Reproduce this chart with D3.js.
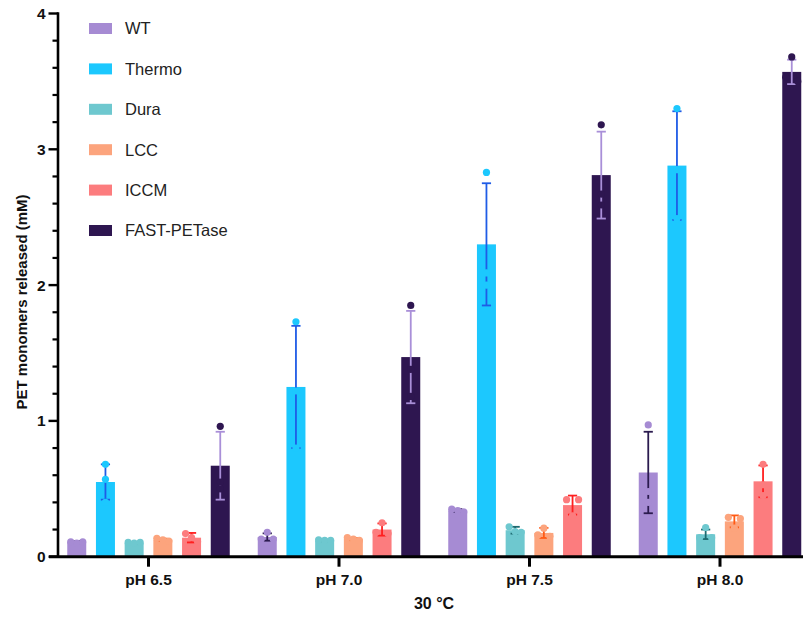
<!DOCTYPE html>
<html>
<head>
<meta charset="utf-8">
<script src="https://cdn.jsdelivr.net/npm/d3@7"></script>
<style>
  html, body { margin: 0; padding: 0; background: #fff; }
  svg { display: block; }
  text { font-family: "Liberation Sans", Arial, sans-serif; }
</style>
</head>
<body>
<svg id="chart" width="803" height="617"></svg>
<script>
// ---- data ----
const groups = ["pH 6.5", "pH 7.0", "pH 7.5", "pH 8.0"];
const series = ["WT", "Thermo", "Dura", "LCC", "ICCM", "FAST-PETase"];
const barColors = ["#a68bd3", "#1cc8fe", "#6ec8cf", "#fca47d", "#fc7c7e", "#2e1650"];
const errColors = ["#2b1b4f", "#1f5ce6", "#1d6a70", "#ff5a14", "#ff1f1f", "#a98fd8"];
const yTicks = [0, 1, 2, 3, 4];
const xTitle = "30 °C";
const yTitle = "PET monomers released (mM)";

const wtMean = [0.11, 0.145, 0.34, 0.62];
const wtSD = [0.005, 0.027, 0.01, 0.30];
const wtPoints = [[0.11, 0.10, 0.11], [0.18, 0.13, 0.13], [0.35, 0.34, 0.33], [0.97, 0.48, 0.40]];

const thermoMean = [0.55, 1.25, 2.30, 2.88];
const thermoSD = [0.13, 0.45, 0.45, 0.40];
const thermoPoints = [[0.68, 0.57, 0.40], [1.73, 1.22, 0.80], [2.83, 2.09, 2.00], [3.30, 2.85, 2.49]];

const duraMean = [0.10, 0.12, 0.195, 0.165];
const duraSD = [0.004, 0.006, 0.025, 0.035];
const duraPoints = [[0.105, 0.10, 0.105], [0.125, 0.12, 0.12], [0.22, 0.185, 0.18], [0.215, 0.14, 0.14]];

const lccMean = [0.125, 0.13, 0.175, 0.26];
const lccSD = [0.008, 0.008, 0.037, 0.044];
const lccPoints = [[0.135, 0.125, 0.115], [0.14, 0.13, 0.12], [0.21, 0.16, 0.15], [0.29, 0.28, 0.21]];

const iccmMean = [0.14, 0.20, 0.38, 0.555];
const iccmSD = [0.035, 0.045, 0.07, 0.117];
const iccmPoints = [[0.17, 0.14, 0.11], [0.25, 0.18, 0.17], [0.42, 0.42, 0.30], [0.68, 0.53, 0.45]];

const fastMean = [0.67, 1.47, 2.81, 3.57];
const fastSD = [0.25, 0.34, 0.32, 0.09];
const fastPoints = [[0.96, 0.55, 0.50], [1.85, 1.38, 1.18], [3.18, 2.67, 2.59], [3.68, 3.53, 3.50]];

const means = [wtMean, thermoMean, duraMean, lccMean, iccmMean, fastMean];
const sds = [wtSD, thermoSD, duraSD, lccSD, iccmSD, fastSD];
const points = [wtPoints, thermoPoints, duraPoints, lccPoints, iccmPoints, fastPoints];

// ---- layout ----
const svg = d3.select("#chart");
const yAxisX = 58;
const x0 = d3.scaleBand().domain(groups).range([53.25, 815.25]).paddingInner(0).paddingOuter(0);
const x1 = d3.scaleBand().domain(series).range([9.15, x0.bandwidth() - 9.15]).paddingInner(0.338).paddingOuter(0.169);
const y = d3.scaleLinear().domain([0, 4]).range([556.7, 13.5]);

const rows = [];
groups.forEach((g, gi) => {
  series.forEach((s, si) => {
    rows.push({ g, s, si, mean: means[si][gi], sd: sds[si][gi], pts: points[si][gi] });
  });
});

const plot = svg.append("g");
const barG = plot.selectAll("g.bar").data(rows).join("g")
  .attr("transform", d => `translate(${x0(d.g) + x1(d.s)},0)`);

barG.append("rect")
  .attr("x", 0)
  .attr("width", x1.bandwidth())
  .attr("y", d => y(d.mean))
  .attr("height", d => y(0) - y(d.mean))
  .attr("fill", d => barColors[d.si]);

const bw = x1.bandwidth();
const capW = 4.6;
// error bars
barG.append("line")
  .attr("x1", bw / 2).attr("x2", bw / 2)
  .attr("y1", d => y(d.mean + d.sd)).attr("y2", d => y(d.mean - d.sd))
  .attr("stroke", d => errColors[d.si]).attr("stroke-width", 1.8);
barG.append("line")
  .attr("x1", bw / 2 - capW).attr("x2", bw / 2 + capW)
  .attr("y1", d => y(d.mean + d.sd)).attr("y2", d => y(d.mean + d.sd))
  .attr("stroke", d => errColors[d.si]).attr("stroke-width", 1.8);
barG.append("line")
  .attr("x1", bw / 2 - capW).attr("x2", bw / 2 + capW)
  .attr("y1", d => y(d.mean - d.sd)).attr("y2", d => y(d.mean - d.sd))
  .attr("stroke", d => errColors[d.si]).attr("stroke-width", 1.8);

// replicate points (spread horizontally only when they overlap)
barG.each(function (d) {
  const g = d3.select(this);
  const pts = d.pts.map((v, i) => ({ v, i }));
  pts.forEach(p => {
    const near = pts.filter(q => Math.abs(y(q.v) - y(p.v)) < 6);
    const k = near.indexOf(p);
    const n = near.length;
    p.dx = n === 1 ? 0 : (k - (n - 1) / 2) * (n === 2 ? 12 : 6);
  });
  g.selectAll("circle").data(pts).join("circle")
    .attr("cx", p => bw / 2 + p.dx)
    .attr("cy", p => y(p.v))
    .attr("r", 3.6)
    .attr("fill", barColors[d.si]);
});

// ---- axes ----
const yAxisG = svg.append("g");
const minor = d3.range(0, 4.0001, 0.2).filter(v => Math.abs(v - Math.round(v)) > 1e-6);
yAxisG.selectAll("line.minor").data(minor).join("line")
  .attr("x1", yAxisX - 5.5).attr("x2", yAxisX)
  .attr("y1", d => y(d)).attr("y2", d => y(d))
  .attr("stroke", "#000").attr("stroke-width", 2.2);
yAxisG.selectAll("line.major").data(yTicks).join("line")
  .attr("x1", yAxisX - 9.5).attr("x2", yAxisX)
  .attr("y1", d => y(d)).attr("y2", d => y(d))
  .attr("stroke", "#000").attr("stroke-width", 2.4);
yAxisG.selectAll("text").data(yTicks).join("text")
  .attr("x", yAxisX - 12.5).attr("y", d => y(d))
  .attr("dy", "0.36em")
  .attr("text-anchor", "end")
  .attr("font-size", 15.5).attr("font-weight", "bold")
  .attr("fill", "#111")
  .text(d => d);
yAxisG.append("line")
  .attr("x1", yAxisX).attr("x2", yAxisX)
  .attr("y1", y(4) - 1.2).attr("y2", y(0))
  .attr("stroke", "#000").attr("stroke-width", 2.6);

const xAxisG = svg.append("g");
xAxisG.append("line")
  .attr("x1", 49).attr("x2", 803)
  .attr("y1", y(0)).attr("y2", y(0))
  .attr("stroke", "#000").attr("stroke-width", 3);
xAxisG.selectAll("line.tick").data(groups).join("line")
  .attr("x1", d => x0(d) + x0.bandwidth() / 2).attr("x2", d => x0(d) + x0.bandwidth() / 2)
  .attr("y1", y(0)).attr("y2", y(0) + 10)
  .attr("stroke", "#000").attr("stroke-width", 3);
xAxisG.selectAll("text").data(groups).join("text")
  .attr("x", d => x0(d) + x0.bandwidth() / 2)
  .attr("y", 585)
  .attr("text-anchor", "middle")
  .attr("font-size", 15.5).attr("font-weight", "bold")
  .attr("fill", "#111")
  .text(d => d);

svg.append("text")
  .attr("x", 434).attr("y", 609)
  .attr("text-anchor", "middle")
  .attr("font-size", 16).attr("font-weight", "bold")
  .attr("fill", "#111")
  .text(xTitle);

svg.append("text")
  .attr("transform", "translate(27,302) rotate(-90)")
  .attr("text-anchor", "middle")
  .attr("font-size", 15).attr("font-weight", "bold")
  .attr("fill", "#111")
  .text(yTitle);

// ---- legend ----
const legend = svg.append("g");
const lg = legend.selectAll("g").data(series).join("g")
  .attr("transform", (d, i) => `translate(89,${28.5 + i * 40.4})`);
lg.append("rect")
  .attr("x", 0).attr("y", -5.5).attr("width", 23).attr("height", 11)
  .attr("fill", (d, i) => barColors[i]);
lg.append("text")
  .attr("x", 36).attr("y", 0).attr("dy", "0.36em")
  .attr("font-size", 16.5).attr("fill", "#222")
  .text(d => d);
</script>
</body>
</html>
